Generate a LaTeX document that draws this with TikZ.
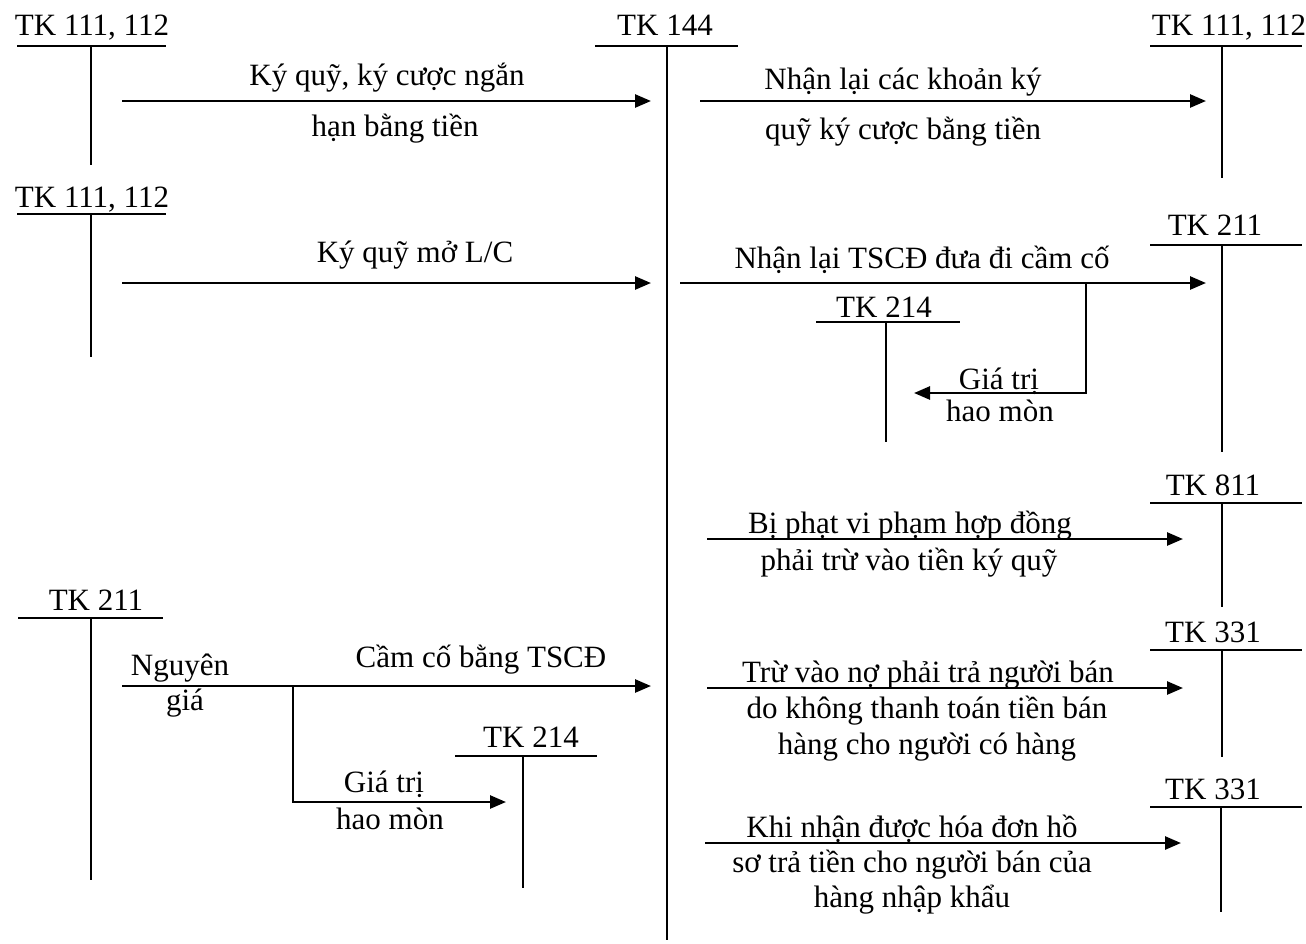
\documentclass[tikz,border=0pt]{standalone}
\usepackage{fontspec}
\setmainfont{Liberation Serif}
\usetikzlibrary{arrows.meta}
\begin{document}
\begin{tikzpicture}[x=0.5pt,y=-0.5pt,
  tline/.style={line width=0.8pt},
  flow/.style={line width=1.3pt,-{Triangle[length=8pt,width=6.5pt]}},
  seg/.style={line width=1.3pt},
  lbl/.style={font=\fontsize{15.5}{18}\selectfont, inner sep=0pt, anchor=base}]
\useasboundingbox (0,0) rectangle (1306,943);

% ---------- T-accounts ----------
% top-left TK 111, 112
\node[lbl] (tA) at (92,35) {TK 111, 112};
\coordinate (A1) at (17,46); \coordinate (A2) at (166,46);
\coordinate (At) at (91,46); \coordinate (Ab) at (91,165);
\draw[tline] (A1) -- (A2) (At) -- (Ab);
% TK 144
\node[lbl] (tM) at (665,35) {TK 144};
\coordinate (M1) at (595,46); \coordinate (M2) at (738,46);
\coordinate (Mt) at (667,46); \coordinate (Mb) at (667,940);
\draw[tline] (M1) -- (M2) (Mt) -- (Mb);
% top-right TK 111, 112
\node[lbl] (tB) at (1229,35) {TK 111, 112};
\coordinate (B1) at (1150,46); \coordinate (B2) at (1302,46);
\coordinate (Bt) at (1222,46); \coordinate (Bb) at (1222,178);
\draw[tline] (B1) -- (B2) (Bt) -- (Bb);
% second left TK 111, 112
\node[lbl] (tC) at (92,207) {TK 111, 112};
\coordinate (C1) at (17,214); \coordinate (C2) at (166,214);
\coordinate (Ct) at (91,214); \coordinate (Cb) at (91,357);
\draw[tline] (C1) -- (C2) (Ct) -- (Cb);
% right TK 211
\node[lbl] (tD) at (1215,235) {TK 211};
\coordinate (D1) at (1150,245); \coordinate (D2) at (1302,245);
\coordinate (Dt) at (1222,245); \coordinate (Db) at (1222,452);
\draw[tline] (D1) -- (D2) (Dt) -- (Db);
% middle TK 214
\node[lbl] (tE) at (884,317) {TK 214};
\coordinate (E1) at (816,322); \coordinate (E2) at (960,322);
\coordinate (Et) at (886,322); \coordinate (Eb) at (886,442);
\draw[tline] (E1) -- (E2) (Et) -- (Eb);
% TK 811
\node[lbl] (tF) at (1213,495) {TK 811};
\coordinate (F1) at (1150,503); \coordinate (F2) at (1302,503);
\coordinate (Ft) at (1222,503); \coordinate (Fb) at (1222,607);
\draw[tline] (F1) -- (F2) (Ft) -- (Fb);
% TK 331 (a)
\node[lbl] (tG) at (1213,642) {TK 331};
\coordinate (G1) at (1150,650); \coordinate (G2) at (1302,650);
\coordinate (Gt) at (1222,650); \coordinate (Gb) at (1222,757);
\draw[tline] (G1) -- (G2) (Gt) -- (Gb);
% TK 331 (b)
\node[lbl] (tH) at (1213,799) {TK 331};
\coordinate (H1) at (1150,807); \coordinate (H2) at (1302,807);
\coordinate (Ht) at (1221,807); \coordinate (Hb) at (1221,912);
\draw[tline] (H1) -- (H2) (Ht) -- (Hb);
% left TK 211
\node[lbl] (tI) at (96,610) {TK 211};
\coordinate (I1) at (18,618); \coordinate (I2) at (163,618);
\coordinate (It) at (91,618); \coordinate (Ib) at (91,880);
\draw[tline] (I1) -- (I2) (It) -- (Ib);
% left TK 214
\node[lbl] (tJ) at (531,747) {TK 214};
\coordinate (J1) at (455,756); \coordinate (J2) at (597,756);
\coordinate (Jt) at (523,756); \coordinate (Jb) at (523,888);
\draw[tline] (J1) -- (J2) (Jt) -- (Jb);

% ---------- flows ----------
% 1
\coordinate (f1s) at (122,101); \coordinate (f1e) at (651,101);
\draw[flow] (f1s) -- (f1e);
\node[lbl] (l1a) at (387,85) {Ký quỹ, ký cược ngắn};
\node[lbl] (l1b) at (395,136) {hạn bằng tiền};
% 2
\coordinate (f2s) at (700,101); \coordinate (f2e) at (1206,101);
\draw[flow] (f2s) -- (f2e);
\node[lbl] (l2a) at (903,89) {Nhận lại các khoản ký};
\node[lbl] (l2b) at (903,139) {quỹ ký cược bằng tiền};
% 3
\coordinate (f3s) at (122,283); \coordinate (f3e) at (651,283);
\draw[flow] (f3s) -- (f3e);
\node[lbl] (l3) at (415,262) {Ký quỹ mở L/C};
% 4
\coordinate (f4s) at (680,283); \coordinate (f4e) at (1206,283);
\draw[flow] (f4s) -- (f4e);
\node[lbl] (l4) at (922,268) {Nhận lại TSCĐ đưa đi cầm cố};
\coordinate (f4b) at (1086,283); \coordinate (f4c) at (1086,393);
\coordinate (f4d) at (914,393);
\draw[flow] (f4b) -- (f4c) -- (f4d);
\node[lbl] (l4a) at (999,389) {Giá trị};
\node[lbl] (l4b) at (1000,421) {hao mòn};
% 5
\coordinate (f5s) at (707,539); \coordinate (f5e) at (1183,539);
\draw[flow] (f5s) -- (f5e);
\node[lbl] (l5a) at (910,533) {Bị phạt vi phạm hợp đồng};
\node[lbl] (l5b) at (909,570) {phải trừ vào tiền ký quỹ};
% 6
\coordinate (f6s) at (707,688); \coordinate (f6e) at (1183,688);
\draw[flow] (f6s) -- (f6e);
\node[lbl] (l6a) at (928,682) {Trừ vào nợ phải trả người bán};
\node[lbl] (l6b) at (927,718) {do không thanh toán tiền bán};
\node[lbl] (l6c) at (927,754) {hàng cho người có hàng};
% 7
\coordinate (f7s) at (705,843); \coordinate (f7e) at (1181,843);
\draw[flow] (f7s) -- (f7e);
\node[lbl] (l7a) at (912,837) {Khi nhận được hóa đơn hồ};
\node[lbl] (l7b) at (912,872) {sơ trả tiền cho người bán của};
\node[lbl] (l7c) at (912,907) {hàng nhập khẩu};
% 8
\coordinate (f8s) at (122,686); \coordinate (f8e) at (651,686);
\draw[flow] (f8s) -- (f8e);
\node[lbl] (l8) at (481,667) {Cầm cố bằng TSCĐ};
\node[lbl] (l8a) at (180,675) {Nguyên};
\node[lbl] (l8b) at (185,710) {giá};
\coordinate (f8b) at (293,686); \coordinate (f8c) at (293,802);
\coordinate (f8d) at (506,802);
\draw[flow] (f8b) -- (f8c) -- (f8d);
\node[lbl] (l8c) at (384,792) {Giá trị};
\node[lbl] (l8d) at (390,829) {hao mòn};
\end{tikzpicture}
\end{document}
